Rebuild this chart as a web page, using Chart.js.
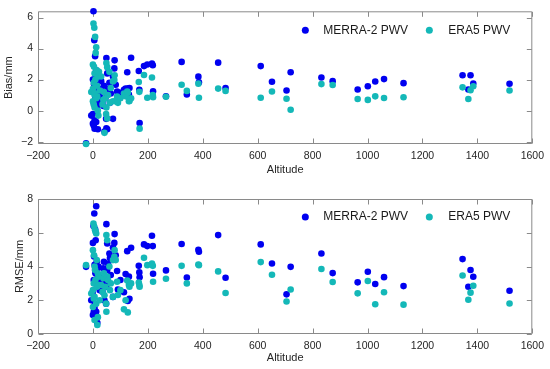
<!DOCTYPE html>
<html>
<head>
<meta charset="utf-8">
<script src="https://cdn.jsdelivr.net/npm/chart.js@4.4.1/dist/chart.umd.min.js"></script>
<style>
  html, body { margin: 0; padding: 0; background: #fff; }
  canvas { display: block; }
</style>
</head>
<body>
<canvas id="bias-chart" width="550" height="185"></canvas>
<canvas id="rmse-chart" width="550" height="184"></canvas>
<script>
// station altitude (m) and the four values for each station
const altitude = [-25, -6, 0, 0, 0, 2, 3, 3, 4, 5, 6, 6, 6, 8, 8, 9, 10, 12, 12, 14, 15, 16, 18, 18, 20, 22, 25,
  30, 35, 38, 40, 42, 45, 48, 49, 49, 52, 52, 55, 60, 62, 65, 73, 73, 78, 79,
  83, 88, 91, 100, 113, 119, 125, 127, 131, 133, 139,
  167, 169, 170, 186, 198, 215, 218, 219, 266, 323, 342, 384, 386, 456, 483,
  611, 652, 705, 720, 832, 873, 964, 1001, 1028, 1060, 1131, 1346, 1367, 1375, 1385, 1517];

const merraBias = [-2.10, -0.32, 2.00, -0.22, -0.84, 6.40, 0.50, -0.96, 1.70, 4.54, 1.20, -0.63, -1.16, 3.51, 1.90, 0.80, 2.30, 2.60, -0.74, 1.50, 0.30, 0.60, 1.00, -1.20, 2.20, 1.40, 0.90,
  1.90, 0.60, 0.30, 1.60, -1.35, 0.80, -0.53, 3.39, -1.14, 2.40, -1.20, 1.40, 1.80, 0.50, 1.10, 2.20, -0.53, 2.72, 3.24,
  1.67, 1.23, 1.00, 1.15, 1.35, 1.42, 2.47, 1.42, 1.04, 1.46, 3.41,
  2.55, 1.35, -0.80, 2.87, 2.97, 3.03, 2.92, 1.25, 0.92, 3.14, 1.04, 2.19, 1.82, 3.09, 1.46,
  2.87, 1.86, 1.30, 2.47, 2.13, 1.90, 1.36, 1.57, 1.88, 2.03, 1.77, 2.28, 1.36, 2.28, 1.75, 1.73];

const era5Bias = [-2.15, 1.20, 2.97, 1.40, 0.60, 5.61, 1.80, 0.40, 2.82, 5.34, 2.40, 1.00, 0.20, 4.75, 1.10, 2.00, 3.72, 4.08, 0.80, 2.60, 1.60, 0.90, 2.20, 0.00, -0.32, 2.50, 1.30,
  2.20, 0.40, 0.70, 1.20, -1.43, 0.80, -0.22, 3.07, 0.20, 2.80, -0.50, 1.00, 2.50, 0.50, 1.46, 1.88, 0.60, 1.97, 2.28,
  0.60, 0.90, 0.50, 0.80, 1.10, 0.92, 1.23, 1.15, 0.60, 0.62, 0.79,
  1.84, 1.21, -1.16, 2.30, 0.83, 2.13, 1.00, 0.87, 0.89, 1.67, 1.27, 1.74, 0.83, 1.42, 1.27,
  0.83, 1.23, 0.77, 0.06, 1.71, 1.65, 0.75, 0.69, 0.92, 0.81, 0.86, 1.50, 0.75, 1.31, 1.57, 1.30];

const merraRmse = [3.98, 2.00, 5.40, 2.50, 1.12, 6.40, 3.20, 1.30, 4.60, 7.14, 4.10, 1.70, 1.50, 6.20, 3.80, 3.60, 5.56, 7.57, 1.32, 4.30, 2.80, 0.67, 3.90, 3.40, 4.00, 3.00, 2.60,
  3.30, 2.50, 3.90, 4.28, 2.00, 3.00, 1.80, 6.51, 2.80, 5.36, 3.80, 4.18, 4.77, 4.50, 3.50, 5.13, 2.20, 5.40, 5.92,
  4.67, 3.73, 2.64, 3.20, 2.47, 3.55, 4.91, 1.96, 3.40, 2.09, 5.11,
  4.04, 3.65, 3.36, 5.31, 5.21, 5.82, 5.21, 3.57, 3.77, 5.33, 3.35, 4.99, 4.87, 5.86, 3.33,
  5.31, 4.18, 2.35, 3.98, 4.77, 3.61, 3.06, 3.69, 2.96, 3.37, 2.84, 4.44, 2.80, 3.79, 3.39, 2.56];

const era5Rmse = [4.08, 2.40, 4.97, 2.60, 1.60, 6.55, 3.00, 2.10, 4.67, 6.35, 4.00, 2.20, 0.83, 6.15, 3.80, 3.20, 6.05, 5.96, 1.80, 4.38, 2.80, 0.53, 3.60, 1.00, 3.40, 2.90, 2.00,
  2.90, 2.50, 3.30, 3.60, 2.30, 2.80, 1.80, 5.86, 1.32, 5.56, 3.40, 3.20, 4.00, 2.60, 3.00, 4.38, 2.20, 4.57, 4.97,
  4.38, 3.10, 2.31, 2.60, 1.46, 2.00, 3.17, 1.28, 2.90, 2.80, 3.00,
  3.05, 2.90, 2.80, 4.52, 4.08, 4.18, 4.04, 3.10, 3.27, 4.04, 3.00, 4.12, 4.08, 3.71, 2.43,
  4.26, 3.51, 1.93, 2.64, 3.85, 3.08, 2.41, 3.14, 1.76, 2.47, 1.74, 3.47, 2.03, 2.45, 2.86, 1.81];

const seriesNames = ['MERRA-2 PWV', 'ERA5 PWV'];
const seriesColors = ['rgb(0, 0, 240)', 'rgb(20, 184, 184)'];
const xTicks = [-200, 0, 200, 400, 600, 800, 1000, 1200, 1400, 1600];
const biasTicks = [-2, 0, 2, 4, 6];
const rmseTicks = [0, 2, 4, 6, 8];

Chart.defaults.font.family = '"Liberation Sans", Arial, sans-serif';
Chart.defaults.color = '#262626';

// plain numbers with a real minus sign, no thousands separator
const tickText = v => String(v).replace('-', '\u2212');

// matlab style box with inward ticks on all four sides, plus legend inside the axes
const axesBox = {
  id: 'axesBox',
  beforeDatasetsDraw(chart) {
    const {ctx, chartArea: a, scales} = chart;
    const L = a.left + 0.5, R = a.right - 0.5, T = a.top + 0.5, B = a.bottom - 0.5;
    ctx.save();
    ctx.strokeStyle = '#8a8a8a';
    ctx.lineWidth = 1;
    ctx.beginPath();
    ctx.rect(L, T, R - L, B - T);
    scales.x.ticks.forEach(t => {
      const px = Math.round(scales.x.getPixelForValue(t.value)) + 0.5;
      ctx.moveTo(px, B); ctx.lineTo(px, B - 5);
      ctx.moveTo(px, T); ctx.lineTo(px, T + 5);
    });
    scales.y.ticks.forEach(t => {
      const py = Math.round(scales.y.getPixelForValue(t.value)) + 0.5;
      ctx.moveTo(L, py); ctx.lineTo(L + 5, py);
      ctx.moveTo(R, py); ctx.lineTo(R - 5, py);
    });
    ctx.stroke();
    ctx.restore();
  },
  afterDraw(chart, args, opts) {
    const {ctx, chartArea: a} = chart;
    const markerX = [-227, -103], textX = [-209, -84];
    const y = a.top + opts.legendY;
    ctx.save();
    ctx.font = '12px "Liberation Sans", Arial, sans-serif';
    ctx.textBaseline = 'middle';
    chart.data.datasets.forEach((ds, i) => {
      ctx.fillStyle = ds.backgroundColor;
      ctx.beginPath();
      ctx.arc(a.right + markerX[i], y, 3.5, 0, Math.PI * 2);
      ctx.fill();
      ctx.fillStyle = '#1a1a1a';
      ctx.fillText(ds.label, a.right + textX[i], y);
    });
    ctx.restore();
  }
};

function makeChart(id, mVals, eVals, cfg) {
  const pts = vals => altitude.map((a, i) => ({x: a, y: vals[i]}));
  return new Chart(document.getElementById(id), {
    type: 'scatter',
    data: {
      datasets: [
        {label: seriesNames[0], data: pts(mVals), backgroundColor: seriesColors[0], borderWidth: 0, pointRadius: 3.3, order: 2, clip: false},
        {label: seriesNames[1], data: pts(eVals), backgroundColor: seriesColors[1], borderWidth: 0, pointRadius: 3.3, order: 1, clip: false}
      ]
    },
    options: {
      responsive: false,
      animation: false,
      events: [],
      layout: {padding: {left: 0, right: 16, top: cfg.top, bottom: 0}},
      plugins: {
        legend: {display: false},
        tooltip: {enabled: false},
        axesBox: {legendY: cfg.legendY}
      },
      scales: {
        x: {
          type: 'linear',
          min: -200, max: 1600,
          afterBuildTicks: s => { s.ticks = xTicks.map(v => ({value: v})); },
          afterFit: s => { s.height = cfg.xHeight; },
          grid: {display: false, drawTicks: false},
          border: {display: false},
          ticks: {font: {size: 10.5}, padding: 6, maxRotation: 0, color: '#262626', callback: tickText},
          title: {display: true, text: 'Altitude', font: {size: 11}, padding: {top: 0, bottom: cfg.xTitlePad}, color: '#262626'}
        },
        y: {
          type: 'linear',
          min: cfg.yMin, max: cfg.yMax,
          afterBuildTicks: s => { s.ticks = cfg.yTicks.map(v => ({value: v})); },
          afterFit: s => { s.width = 38; },
          grid: {display: false, drawTicks: false},
          border: {display: false},
          ticks: {font: {size: 10.5}, padding: 5, color: '#262626', callback: tickText},
          title: {display: true, text: cfg.yTitle, font: {size: 11}, padding: {top: cfg.yTitlePad, bottom: 0}, color: '#262626'}
        }
      }
    },
    plugins: [axesBox]
  });
}

makeChart('bias-chart', merraBias, era5Bias, {
  top: 8, xHeight: 41, xTitlePad: 8, yMin: -2.15, yMax: 6.4, yTicks: biasTicks,
  yTitle: 'Bias/mm', yTitlePad: 2, legendY: 19
});

makeChart('rmse-chart', merraRmse, era5Rmse, {
  top: 14, xHeight: 35, xTitlePad: 4, yMin: 0, yMax: 8, yTicks: rmseTicks,
  yTitle: 'RMSE/mm', yTitlePad: 13, legendY: 18
});
</script>
</body>
</html>
